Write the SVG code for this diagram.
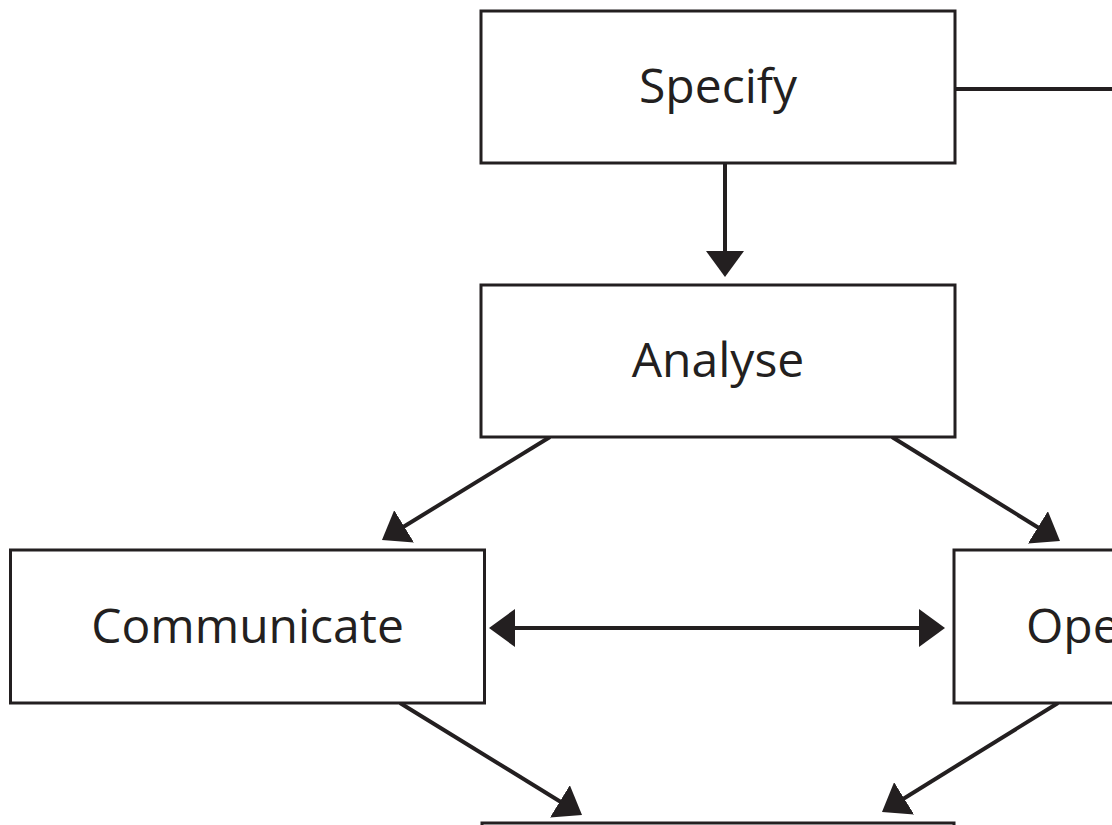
<svg xmlns="http://www.w3.org/2000/svg" width="1112" height="825" viewBox="0 0 1112 825">
  <style>
    .box { fill: #ffffff; stroke: #231f20; stroke-width: 3; }
    .label { font-family: "Open Sans", "Noto Sans", sans-serif; font-size: 48px; fill: #231f20; text-anchor: middle; }
    .link { fill: none; stroke: #231f20; stroke-width: 4; }
  </style>
  <defs>
    <marker id="arrow" viewBox="0 0 26 38" refX="14" refY="19" markerWidth="26" markerHeight="38" markerUnits="userSpaceOnUse" orient="auto-start-reverse">
      <path d="M0,0 L26,19 L0,38 z" fill="#231f20"/>
    </marker>
  </defs>
  <rect width="1112" height="825" fill="#ffffff"/>

  <g id="connectors">
    <line class="link" x1="955" y1="89" x2="1112" y2="89"/>
    <line class="link" x1="725" y1="163" x2="725" y2="265" marker-end="url(#arrow)"/>
    <line class="link" x1="550" y1="437" x2="392.2" y2="533.7" marker-end="url(#arrow)"/>
    <line class="link" x1="892" y1="437" x2="1049.8" y2="534.7" marker-end="url(#arrow)"/>
    <line class="link" x1="501" y1="628" x2="933" y2="628" marker-start="url(#arrow)" marker-end="url(#arrow)"/>
    <line class="link" x1="400" y1="703" x2="571.8" y2="808.7" marker-end="url(#arrow)"/>
    <line class="link" x1="1058" y1="703" x2="892.2" y2="805.7" marker-end="url(#arrow)"/>
  </g>

  <g id="node-specify">
    <rect class="box" x="481" y="11" width="474" height="152"/>
    <text class="label" x="718" y="103">Specify</text>
  </g>
  <g id="node-analyse">
    <rect class="box" x="481" y="285" width="474" height="152"/>
    <text class="label" x="718" y="377">Analyse</text>
  </g>
  <g id="node-communicate">
    <rect class="box" x="10.5" y="550" width="474" height="153"/>
    <text class="label" x="247.5" y="643">Communicate</text>
  </g>
  <g id="node-operate">
    <rect class="box" x="954" y="550" width="474" height="153"/>
    <text class="label" x="1026" y="643" style="text-anchor: start">Ope</text>
  </g>
  <g id="node-bottom">
    <rect class="box" x="482" y="823" width="472" height="152"/>
  </g>
</svg>
